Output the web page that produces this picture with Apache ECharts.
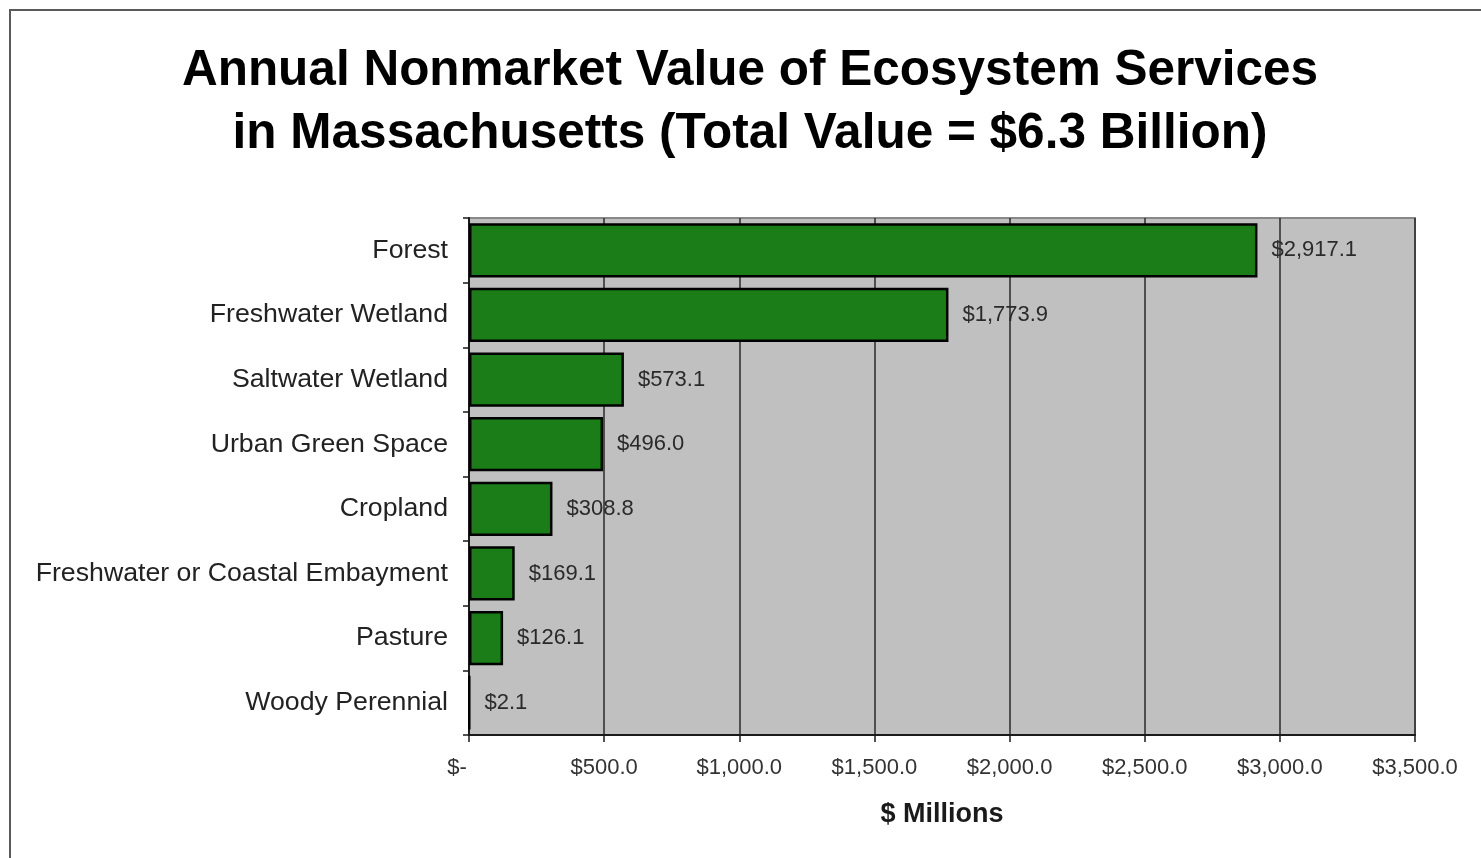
<!DOCTYPE html>
<html>
<head>
<meta charset="utf-8">
<title>Annual Nonmarket Value of Ecosystem Services in Massachusetts</title>
<script src="https://cdn.jsdelivr.net/npm/echarts@6/dist/echarts.min.js"></script>
<style>
  html, body { margin: 0; padding: 0; background: #ffffff; }
  #chart { width: 1481px; height: 858px; }
</style>
</head>
<body>
<div id="chart"></div>
<script>
// Land cover types, top to bottom
const categories = [
  'Forest',
  'Freshwater Wetland',
  'Saltwater Wetland',
  'Urban Green Space',
  'Cropland',
  'Freshwater or Coastal Embayment',
  'Pasture',
  'Woody Perennial'
];
// Annual value, $ millions
const values = [2917.1, 1773.9, 573.1, 496.0, 308.8, 169.1, 126.1, 2.1];
// Value axis ticks
const axisMin = 0;
const axisMax = 3500;
const axisStep = 500;

const titleLines = [
  'Annual Nonmarket Value of Ecosystem Services',
  'in Massachusetts (Total Value = $6.3 Billion)'
];
const axisTitle = '$ Millions';

const FONT = '"Liberation Sans", Arial, Helvetica, sans-serif';

function money(v) {
  return '$' + v.toLocaleString('en-US', { minimumFractionDigits: 1, maximumFractionDigits: 1 });
}

const chart = echarts.init(document.getElementById('chart'), null, { renderer: 'canvas' });

chart.setOption({
  backgroundColor: '#ffffff',
  animation: false,
  graphic: [
    {
      type: 'rect',
      z: 0,
      silent: true,
      shape: { x: 10, y: 10, width: 1600, height: 1000 },
      style: { fill: 'none', stroke: '#5a5a5a', lineWidth: 2 }
    },
    {
      type: 'text',
      z: 10,
      x: 750,
      y: 71,
      style: {
        text: titleLines[0],
        font: 'bold 49.5px ' + FONT,
        fill: '#000000',
        align: 'center',
        verticalAlign: 'middle'
      }
    },
    {
      type: 'text',
      z: 10,
      x: 750,
      y: 134,
      style: {
        text: titleLines[1],
        font: 'bold 49.5px ' + FONT,
        fill: '#000000',
        align: 'center',
        verticalAlign: 'middle'
      }
    }
  ],
  grid: {
    left: 469,
    right: 66,
    top: 218,
    bottom: 123,
    show: true,
    backgroundColor: '#c0c0c0',
    borderColor: '#888888',
    borderWidth: 2
  },
  xAxis: {
    type: 'value',
    min: axisMin,
    max: axisMax,
    interval: axisStep,
    name: axisTitle,
    nameLocation: 'middle',
    nameGap: 66,
    nameTextStyle: {
      fontFamily: FONT,
      fontWeight: 'bold',
      fontSize: 27,
      color: '#1a1a1a'
    },
    axisLine: { show: true, lineStyle: { color: '#1a1a1a', width: 2 } },
    axisTick: { show: true, length: 7, lineStyle: { color: '#1a1a1a', width: 1.5 } },
    splitLine: { show: true, lineStyle: { color: '#2a2a2a', width: 1.5 } },
    axisLabel: {
      margin: 22,
      fontFamily: FONT,
      fontSize: 22,
      color: '#333333',
      formatter: function (v) {
        return v === 0 ? '{z|$-}' : money(v);
      },
      rich: {
        z: { fontFamily: FONT, fontSize: 22, color: '#333333', padding: [0, 24, 0, 0] }
      }
    }
  },
  yAxis: {
    type: 'category',
    data: categories,
    inverse: true,
    axisLine: { show: true, lineStyle: { color: '#1a1a1a', width: 2 } },
    axisTick: { show: true, length: 6, alignWithLabel: false, lineStyle: { color: '#1a1a1a', width: 1.5 } },
    splitLine: { show: false },
    axisLabel: {
      margin: 21,
      fontFamily: FONT,
      fontSize: 26.7,
      color: '#222222'
    }
  },
  series: [
    {
      type: 'bar',
      data: values,
      barCategoryGap: '16%',
      itemStyle: {
        color: '#1a7d17',
        borderColor: '#000000',
        borderWidth: 2.5
      },
      label: {
        show: true,
        position: 'right',
        distance: 14,
        fontFamily: FONT,
        fontSize: 22,
        color: '#2a2a2a',
        formatter: function (p) { return money(p.value); }
      }
    }
  ]
});
</script>
</body>
</html>
